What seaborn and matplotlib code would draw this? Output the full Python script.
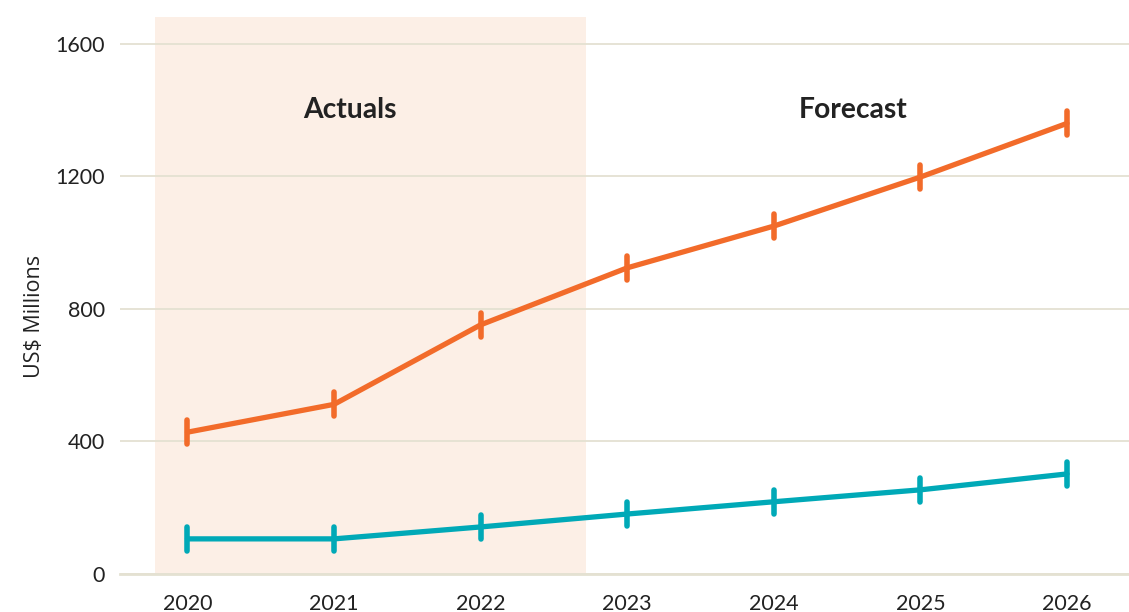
import pandas as pd
import matplotlib
matplotlib.use("Agg")
import matplotlib.pyplot as plt
from matplotlib.markers import MarkerStyle
import seaborn as sns

# chart values
years = [2020, 2021, 2022, 2023, 2024, 2025, 2026]
orange_values = [428, 512, 752, 924, 1050, 1198, 1360]
teal_values = [106, 106, 142, 181, 218, 254, 302]
y_ticks = [0, 400, 800, 1200, 1600]
actuals_span = (2019.78, 2022.72)

ORANGE = "#F26B2A"
TEAL = "#00A9B7"
SHADE = "#FCEFE6"
GRID = "#E4E1D2"
TEXT = "#222222"

sns.set_style("white")
plt.rcParams['font.family'] = ['Lato', 'DejaVu Sans']

df_orange = pd.DataFrame({'Year': years, 'Value': orange_values})
df_teal = pd.DataFrame({'Year': years, 'Value': teal_values})

fig = plt.figure(figsize=(11.29, 6.12), dpi=100)
ax = fig.add_axes([0.1063, 0.0621, 0.8937 + 0.01, 0.9101])

# shaded "Actuals" region
ax.axvspan(actuals_span[0], actuals_span[1], color=SHADE, zorder=0, lw=0)

tick_marker = MarkerStyle('|', capstyle='round')
for d, c in [(df_orange, ORANGE), (df_teal, TEAL)]:
    sns.lineplot(data=d, x='Year', y='Value', ax=ax, color=c, linewidth=3.8,
                 marker=tick_marker, markersize=17, markeredgewidth=4,
                 markeredgecolor=c, solid_capstyle='round', zorder=3)

ax.set_xlim(2019.54, 2026.50)
ax.set_ylim(0, 1681)
ax.set_yticks(y_ticks)
ax.set_xticks(years)
ax.set_yticklabels([str(v) for v in y_ticks])
ax.set_xticklabels([str(v) for v in years])

ax.grid(axis='y', color=GRID, linewidth=1.3, zorder=1)
ax.set_axisbelow(True)
for s in ['top', 'right', 'left']:
    ax.spines[s].set_visible(False)
ax.spines['bottom'].set_color(GRID)
ax.spines['bottom'].set_linewidth(2)

ax.tick_params(axis='x', direction='in', length=9, width=1.5, color=GRID,
               pad=14.5, labelsize=15.5, labelcolor=TEXT)
ax.tick_params(axis='y', length=0, pad=11, labelsize=15.5, labelcolor=TEXT)

ax.set_xlabel('')
ax.set_ylabel('US$ Millions', fontsize=15.5, color=TEXT,
              family=['Open Sans', 'DejaVu Sans'])
ax.yaxis.set_label_coords(-0.074, 0.463)

ax.text(2021.11, 1400, 'Actuals', ha='center', va='center', fontsize=20.3,
        fontweight='bold', color=TEXT)
ax.text(2024.54, 1400, 'Forecast', ha='center', va='center', fontsize=20.3,
        fontweight='bold', color=TEXT)

fig.savefig('out.png', dpi=100)
